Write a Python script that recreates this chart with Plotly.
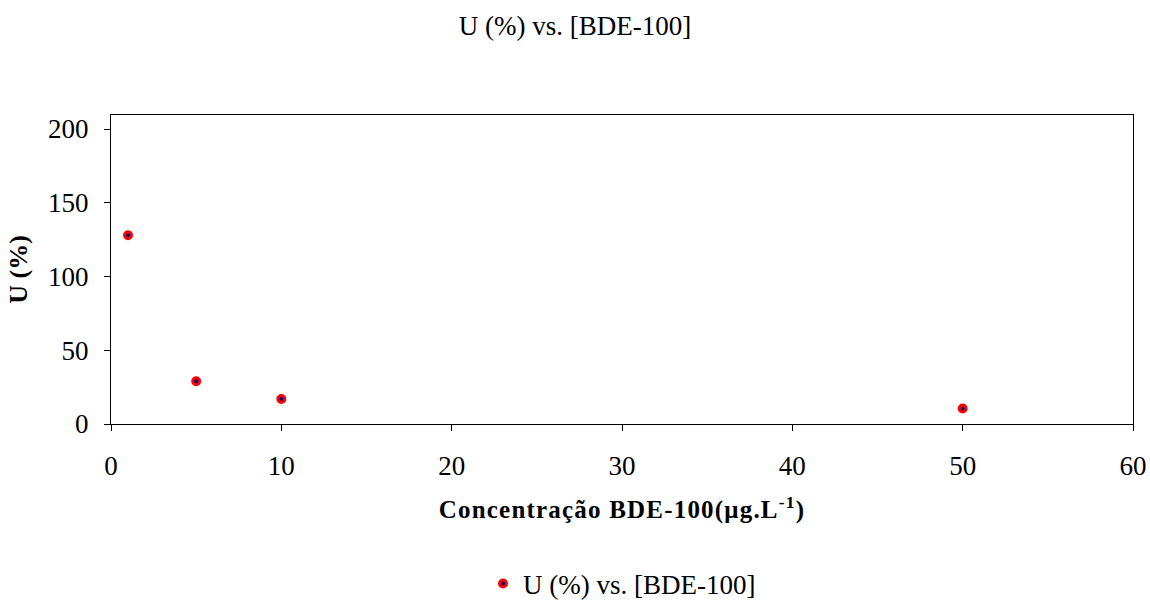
import plotly.graph_objects as go

conc = [1, 5, 10, 50]
u_pct = [128, 29, 17, 10.5]
series_name = "U (%) vs. [BDE-100]"
x_ticks = [0, 10, 20, 30, 40, 50, 60]
y_ticks = [0, 50, 100, 150, 200]

FONT = "Liberation Serif, Times New Roman, serif"
W, H = 1150, 600
L, R, T, B = 111, 17, 115, 176
plot_h = H - T - B

fig = go.Figure()
fig.add_trace(go.Scatter(
    x=conc, y=u_pct, mode="markers", name=series_name,
    marker=dict(color="#000080", size=7, line=dict(color="#ff0000", width=3)),
    showlegend=True,
))

fig.update_layout(
    width=W, height=H,
    paper_bgcolor="white", plot_bgcolor="white",
    margin=dict(l=L, r=R, t=T, b=B, autoexpand=False),
    font=dict(family=FONT, color="black", size=27),
    title=dict(text="U (%) vs. [BDE-100]", x=0.5, xanchor="center",
               y=1 - 26 / H, yanchor="middle",
               font=dict(family=FONT, size=27, color="black")),
    showlegend=True,
    legend=dict(orientation="h", x=0.5, xanchor="center",
                y=-(584 - (H - B)) / plot_h, yanchor="middle",
                font=dict(family=FONT, size=27, color="black"),
                itemwidth=30, bgcolor="rgba(0,0,0,0)"),
    xaxis=dict(range=[0, 60], tickvals=x_ticks, automargin=False,
               showgrid=False, zeroline=False, showline=True, linecolor="black",
               linewidth=1, mirror=True, ticks="outside", ticklen=6, tickcolor="black",
               ticklabelstandoff=12,
               tickfont=dict(family=FONT, size=27),
               title=dict(text="<b>Concentração BDE-100(μg.L<sup>-1</sup>)</b>",
                          font=dict(family=FONT, size=25), standoff=20)),
    yaxis=dict(range=[0, 209.5], tickvals=y_ticks, automargin=False,
               showgrid=False, zeroline=False, showline=True, linecolor="black",
               linewidth=1, mirror=True, ticks="outside", ticklen=6, tickcolor="black",
               ticklabelstandoff=10,
               tickfont=dict(family=FONT, size=27),
               title=dict(text="<b>U (%)</b>", font=dict(family=FONT, size=26), standoff=12)),
)

post = """
document.body.style.margin = '0';
document.documentElement.style.overflow = 'hidden';
var s = document.createElement('style');
s.textContent = '.xtitle { letter-spacing: 1.2px; }';
document.head.appendChild(s);
"""

fig.write_html("out.html", post_script=post, config={"displayModeBar": False})
